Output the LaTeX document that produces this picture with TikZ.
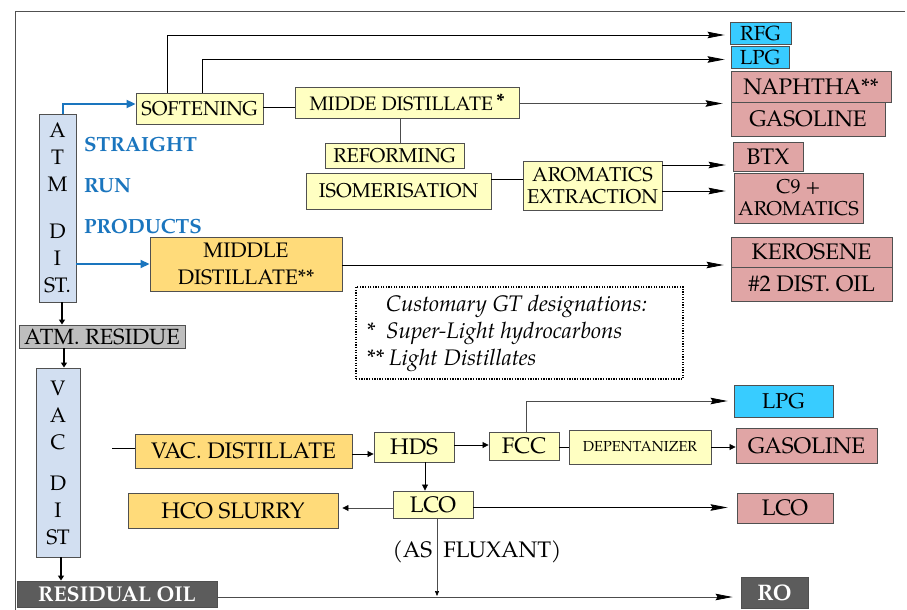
\documentclass[tikz,border=0pt]{standalone}
\usepackage{fontspec}
\setmainfont{texgyrepagella}[Extension=.otf,UprightFont=*-regular,BoldFont=*-bold,ItalicFont=*-italic,BoldItalicFont=*-bolditalic]
\usetikzlibrary{arrows.meta}
\definecolor{atmblue}{HTML}{D2DFF1}
\definecolor{lyel}{HTML}{FFFFC2}
\definecolor{goldb}{HTML}{FFDB7A}
\definecolor{cyanb}{HTML}{38CCFF}
\definecolor{pinkb}{HTML}{E0A5A5}
\definecolor{grayb}{HTML}{BEBEBE}
\definecolor{darkb}{HTML}{5C5C5C}
\definecolor{blueT}{HTML}{1A75BE}
\definecolor{edgec}{HTML}{505050}
\newcommand\fsA{\fontsize{20}{24}\selectfont}
\newcommand\fsB{\fontsize{22.5}{26}\selectfont}
\newcommand\fsS{\fontsize{14.5}{17}\selectfont}
\begin{document}
\begin{tikzpicture}[x=1pt,y=-1pt,
  bx/.style={draw=edgec, line width=0.9pt, inner sep=0pt, align=center},
  yelbox/.style={bx, fill=lyel},
  goldbox/.style={bx, fill=goldb},
  cyanbox/.style={bx, fill=cyanb},
  pinkbox/.style={bx, fill=pinkb},
  colbox/.style={bx, fill=atmblue},
  bigarr/.style={line width=0.8pt, -{Stealth[length=17pt,width=6.5pt,inset=2pt,color=black]}},
  smallarr/.style={line width=0.8pt, -{Triangle[length=6pt,width=6pt,color=black]}},
  bluearr/.style={draw=blueT, line width=2pt, -{Triangle[length=9pt,width=8pt]}},
  thickarr/.style={line width=2.2pt, -{Triangle[length=5pt,width=6pt]}},
  plain/.style={line width=0.8pt},
  bluelbl/.style={text=blueT, font=\fontsize{20.5}{24}\selectfont\bfseries, anchor=west, inner sep=0pt}
]
\useasboundingbox (0,0) rectangle (907,610);
\fill[white] (0,0) rectangle (907,610);
% frame
\draw[edgec, line width=0.9pt] (905,11) -- (15,11) -- (15,611);

% upper section
\node[colbox, minimum width=37pt, minimum height=188pt, font=\fontsize{21}{27}\selectfont] (atm) at (57.5,208) {A\\T\\M\\[20pt]D\\I\\ST.};
\node[yelbox, minimum width=127pt, minimum height=31pt, font=\fsA] (soft) at (199.5,108.5) {SOFTENING};
\node[yelbox, minimum width=224pt, minimum height=31pt, font=\fontsize{19.5}{24}\selectfont] (midde) at (407,102.5) {MIDDE DISTILLATE\,\raisebox{3pt}{\bfseries *}};
\node[yelbox, minimum width=139pt, minimum height=25pt, font=\fsA] (reform) at (394.5,155.5) {REFORMING};
\node[yelbox, minimum width=185pt, minimum height=36pt, font=\fsA] (isom) at (398.5,191) {ISOMERISATION};
\node[yelbox, minimum width=139pt, minimum height=49pt, font=\fontsize{20}{22}\selectfont] (arom) at (592.5,185.5) {AROMATICS\\EXTRACTION};
\node[cyanbox, minimum width=61pt, minimum height=22pt, font=\fontsize{20.4}{24}\selectfont] (rfg) at (760.5,33) {RFG};
\node[cyanbox, minimum width=58pt, minimum height=22pt, font=\fontsize{20.4}{24}\selectfont] (lpgA) at (760,57) {LPG};
\node[pinkbox, minimum width=160pt, minimum height=31pt, font=\fsB] (naph) at (811,86.5) {NAPHTHA**};
\node[pinkbox, minimum width=154pt, minimum height=34pt, font=\fsB] (gasA) at (808,119) {GASOLINE};
\node[pinkbox, minimum width=70pt, minimum height=29pt, font=\fsB] (btx) at (768,156.5) {BTX};
\node[pinkbox, minimum width=129pt, minimum height=50pt, font=\fontsize{20}{22}\selectfont] (cnine) at (798.5,198) {C9 +\\AROMATICS};
\node[goldbox, minimum width=192pt, minimum height=54pt, font=\fontsize{21}{27}\selectfont] (mdist) at (246,264) {MIDDLE\\DISTILLATE**};
\node[pinkbox, minimum width=161pt, minimum height=30pt, font=\fsB] (kero) at (811.5,252) {KEROSENE};
\node[pinkbox, minimum width=161pt, minimum height=34pt, font=\fsB] (dtwo) at (811.5,284) {\#2 DIST. OIL};

\node[bluelbl] (lstr) at (84,145) {STRAIGHT};
\node[bluelbl] (lrun) at (84,186) {RUN};
\node[bluelbl] (lprod) at (84,227) {PRODUCTS};

% note
\node[draw, line width=1.3pt, dash pattern=on 1.3pt off 1.3pt, minimum width=327pt, minimum height=92pt, inner sep=0pt] (note) at (519.5,333) {};
\node[anchor=west, inner sep=0pt, align=left, font=\fontsize{22.5}{27}\selectfont\itshape] (notetxt) at (367,333)
  {\hspace*{19pt}Customary GT designations:\\ \makebox[19pt][l]{*}Super-Light hydrocarbons\\ \makebox[22pt][l]{**}Light Distillates};

% lower section
\node[bx, fill=grayb, minimum width=166pt, minimum height=23pt, font=\fontsize{22}{26}\selectfont] (atmres) at (102,336.5) {ATM. RESIDUE};
\node[colbox, minimum width=44pt, minimum height=189pt, font=\fontsize{21}{27}\selectfont] (vac) at (58,462.5) {V\\A\\C\\[14pt]D\\I\\ST};
\node[bx, fill=darkb, text=white, minimum width=200pt, minimum height=26pt, font=\fontsize{21.4}{26}\selectfont\bfseries] (resoil) at (117,594) {RESIDUAL OIL};
\node[bx, fill=darkb, text=white, minimum width=67pt, minimum height=31pt, font=\fontsize{22.5}{26}\selectfont\bfseries] (ro) at (774.5,592.5) {RO};
\node[goldbox, minimum width=217pt, minimum height=34pt, font=\fsB] (vacd) at (243.5,451) {VAC. DISTILLATE};
\node[goldbox, minimum width=210pt, minimum height=35pt, font=\fsB] (hco) at (233,510.5) {HCO SLURRY};
\node[yelbox, minimum width=80pt, minimum height=30pt, font=\fsB] (hds) at (414,447) {HDS};
\node[yelbox, minimum width=70pt, minimum height=28pt, font=\fsB] (fcc) at (524,446) {FCC};
\node[yelbox, minimum width=142pt, minimum height=34pt, font=\fsS] (depent) at (640,447) {DEPENTANIZER};
\node[cyanbox, minimum width=99pt, minimum height=32pt, font=\fontsize{21.5}{26}\selectfont] (lpgB) at (783.5,401) {LPG};
\node[pinkbox, minimum width=141pt, minimum height=35pt, font=\fsB] (gasB) at (806.5,445.5) {GASOLINE};
\node[yelbox, minimum width=80pt, minimum height=27pt, font=\fsB] (lco) at (433,504.5) {LCO};
\node[pinkbox, minimum width=96pt, minimum height=30pt, font=\fsB] (lcoB) at (785,508) {LCO};

% connectors upper
\draw[bluearr] ([xshift=5.5pt]atm.north) |- ([yshift=4.5pt]soft.west);
\draw[bigarr] (167,0 |- soft.north) |- ([xshift=-5pt,yshift=-2pt]rfg.west);
\draw[bigarr] (202,0 |- soft.north) |- ([xshift=-6pt,yshift=-2.5pt]lpgA.west);
\draw[plain] ([yshift=1.5pt]soft.east) -- ([yshift=1.5pt]soft.east -| midde.west);
\draw[bigarr, draw=black!70] ([yshift=-1pt]midde.east) -- ([xshift=-8pt,yshift=-1pt]midde.east -| naph.west);
\draw[plain, draw=black!70] (400,0 |- midde.south) -- (400,0 |- reform.north);
\draw[plain] ([yshift=12pt]isom.east) -- ([yshift=12pt]isom.east -| arom.west);
\draw[bigarr] ([yshift=20.5pt]arom.east) -- ([xshift=-7pt,yshift=20.5pt]arom.east -| btx.west);
\draw[bigarr] ([yshift=-5.5pt]arom.east) -- ([xshift=-8pt,yshift=-5.5pt]arom.east -| cnine.west);
\draw[bluearr, line width=1.8pt] (atm.east |- mdist.west) -- (mdist.west);
\draw[bigarr] ([yshift=-1pt]mdist.east) -- ([xshift=-7pt,yshift=-1pt]mdist.east -| kero.west);

% connectors lower
\draw[thickarr] (62,0 |- atm.south) -- (62,0 |- atmres.north);
\draw[thickarr] (64,0 |- atmres.south) -- (64,0 |- vac.north);
\draw[thickarr] (61,0 |- vac.south) -- (61,0 |- resoil.north);
\draw[bigarr, draw=black!70] ([yshift=-3pt]resoil.east) -- ([xshift=-8pt,yshift=-3pt]resoil.east -| ro.west);
\coordinate (vin) at (112,448);
\draw[plain] (vin) -- (vin -| vacd.west);
\draw[smallarr] ([yshift=-3pt]vacd.east) -- ([yshift=-3pt]vacd.east -| hds.west);
\draw[smallarr] ([yshift=2pt]hds.east) -- ([yshift=2pt]hds.east -| fcc.west);
\draw[bigarr, draw=black!70] (526,0 |- fcc.north) |- ([xshift=-6pt]lpgB.west);
\draw[plain] ([yshift=-1pt]fcc.east) -- ([yshift=-1pt]fcc.east -| depent.west);
\draw[smallarr] (depent.east) -- (depent.east -| gasB.west);
\draw[smallarr] (425,0 |- hds.south) -- (425,0 |- lco.north);
\draw[smallarr, draw=black!70] ([yshift=-3.5pt]lco.west) -- ([xshift=4pt,yshift=-3.5pt]lco.west -| hco.east);
\draw[bigarr] ([yshift=-3pt]lco.east) -- ([xshift=-9pt,yshift=-3pt]lco.east -| lcoB.west);
\coordinate (flux) at (437,596);
\draw[line width=0.6pt, draw=black!70, -{Triangle[length=5pt,width=4pt,color=black]}] (437,0 |- lco.south) -- (flux);
\node[font=\fontsize{22.5}{26}\selectfont, inner sep=0pt] (fluxlbl) at (477,552) {(AS\,\,\,FLUXANT)};
\end{tikzpicture}
\end{document}
